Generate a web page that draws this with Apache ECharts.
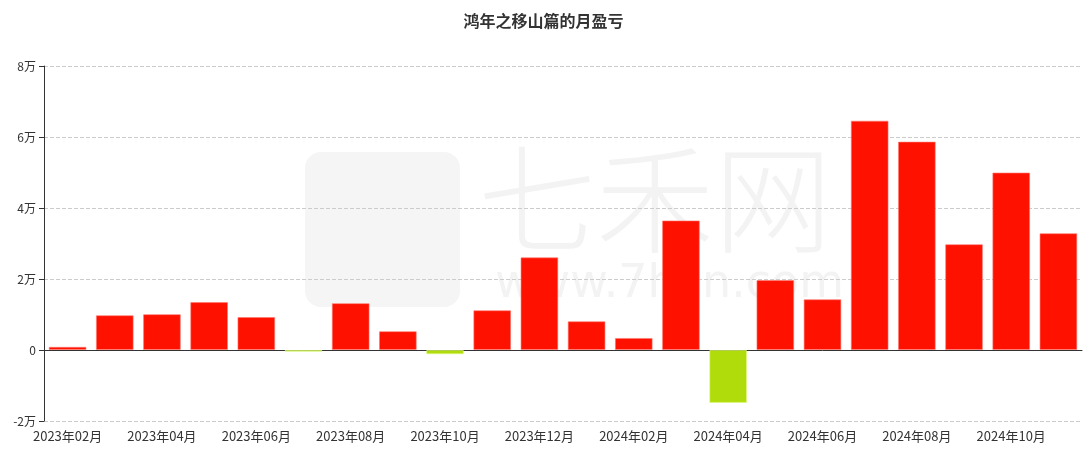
<!DOCTYPE html>
<html><head><meta charset="utf-8">
<script src="https://cdn.jsdelivr.net/npm/echarts@6/dist/echarts.min.js"></script>
<style>html,body{margin:0;padding:0;background:#fff}#c{width:1087px;height:452px}</style>
</head><body><div id="c"></div>
<script>
const categories = ["2023年02月","2023年03月","2023年04月","2023年05月","2023年06月","2023年07月","2023年08月","2023年09月","2023年10月","2023年11月","2023年12月","2024年01月","2024年02月","2024年03月","2024年04月","2024年05月","2024年06月","2024年07月","2024年08月","2024年09月","2024年10月","2024年11月"];
const profit = [900, 9800, 10100, 13500, 9300, -500, 13200, 5300, -1200, 11200, 26100, 8100, 3400, 36500, -14900, 19700, 14300, 64600, 58700, 29800, 50000, 32900];
const yTicks = [-20000, 0, 20000, 40000, 60000, 80000];
const titleText = "鸿年之移山篇的月盈亏";
const posColor = "#ff1100";
const negColor = "#b1dc0c";

const chart = echarts.init(document.getElementById('c'));
const font = '"Noto Sans CJK SC", "Noto Sans", sans-serif';
chart.setOption({
  animation: false,
  textStyle: {fontFamily: font},
  title: {text: titleText, left: 'center', top: 8, textStyle: {fontSize: 16, fontWeight: 'bold', color: '#333', fontFamily: font}},
  graphic: [
    {type: 'rect', left: 305, top: 152, z: -10, shape: {width: 155, height: 155, r: 16}, style: {fill: '#f5f5f5'}},
    {type: 'text', left: 478, top: 140, z: -10, style: {text: '七禾网', font: '200 118px "Noto Sans CJK SC"', fill: '#f3f3f3'}},
    {type: 'text', left: 495, top: 262, z: -10, style: {text: 'www.7hcn.com', font: '46px "DejaVu Sans"', fill: '#f3f3f3'}}
  ],
  grid: {left: 44, right: 5, top: 66, bottom: 31, containLabel: false, outerBoundsMode: 'none'},
  xAxis: [{
    type: 'category', data: categories, position: 'bottom',
    axisLine: {show: false, onZero: false},
    axisTick: {show: false},
    axisLabel: {interval: 1, margin: 9, color: '#333', fontSize: 13, fontFamily: font}
  }, {
    type: 'category', data: categories, position: 'bottom',
    axisLine: {onZero: true, lineStyle: {color: '#333'}},
    axisTick: {alignWithLabel: true, interval: 1, length: 5, lineStyle: {color: '#333'}},
    axisLabel: {show: false, interval: 1}
  }],
  yAxis: {
    type: 'value', min: yTicks[0], max: yTicks[yTicks.length-1], interval: 20000,
    axisLine: {show: true, lineStyle: {color: '#333'}},
    axisTick: {show: true, length: 5, lineStyle: {color: '#333'}},
    axisLabel: {color: '#333', fontSize: 12, fontFamily: font, formatter: v => v === 0 ? '0' : (v / 10000) + '万'},
    splitLine: {lineStyle: {type: 'dashed', color: '#ccc'}}
  },
  series: [{
    type: 'bar', barCategoryGap: '20%', xAxisIndex: 0,
    data: profit.map(v => ({value: v, itemStyle: {color: v >= 0 ? posColor : negColor, borderColor: v >= 0 ? 'rgba(255,120,110,0.6)' : 'rgba(220,250,120,0.6)', borderWidth: 1}}))
  }]
});
</script></body></html>
